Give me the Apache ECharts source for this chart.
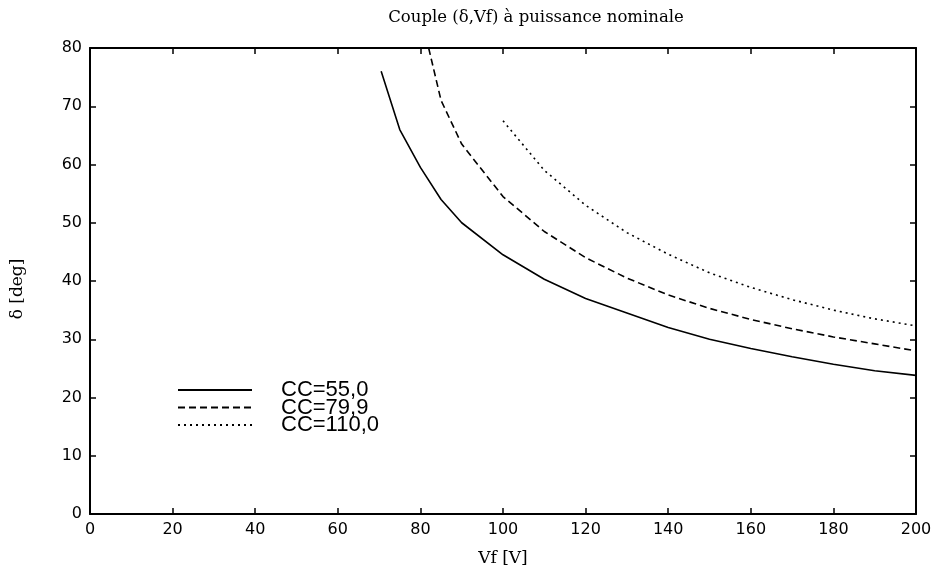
<!DOCTYPE html>
<html>
<head>
<meta charset="utf-8" />
<title>Couple (δ,Vf)</title>
<script src="https://cdn.jsdelivr.net/npm/echarts@6/dist/echarts.min.js"></script>
<style>
  html, body { margin: 0; padding: 0; background: #fff; }
  #chart { width: 935px; height: 574px; }
</style>
</head>
<body>
<div id="chart"></div>
<script>
// courbes : Vf [V] -> delta [deg]
var vf55 = [70.5, 75, 80, 85, 90, 100, 110, 120, 130, 140, 150, 160, 170, 180, 190, 200];
var d55 = [76, 66, 59.5, 54, 50, 44.5, 40.3, 37, 34.5, 32, 30, 28.4, 27, 25.7, 24.6, 23.8];

var vf79 = [82, 85, 90, 100, 110, 120, 130, 140, 150, 160, 170, 180, 190, 200];
var d79 = [80, 71, 63.5, 54.5, 48.5, 44, 40.5, 37.6, 35.3, 33.4, 31.8, 30.4, 29.2, 28];

var vf110 = [100, 110, 120, 130, 140, 150, 160, 170, 180, 190, 200];
var d110 = [67.5, 59, 53, 48.3, 44.6, 41.4, 38.9, 36.8, 35, 33.5, 32.3];

var names = ['CC=55,0', 'CC=79,9', 'CC=110,0'];

function pairs(xs, ys) {
  var out = [];
  for (var i = 0; i < xs.length; i++) out.push([xs[i], ys[i]]);
  return out;
}

var tickFont = { color: '#000', fontFamily: 'DejaVu Sans', fontSize: 16 };
var serif = { fontFamily: 'DejaVu Serif', fontSize: 17, color: '#000' };

function axisBase(show) {
  return {
    axisLine: { show: true, onZero: false, lineStyle: { color: '#000', width: 2 } },
    axisTick: { show: true, inside: true, length: 6, lineStyle: { color: '#000', width: 1.5 } },
    splitLine: { show: false },
    axisLabel: show ? tickFont : { show: false }
  };
}

var chart = echarts.init(document.getElementById('chart'));
chart.setOption({
  backgroundColor: '#fff',
  animation: false,
  title: {
    text: 'Couple (δ,Vf) à puissance nominale',
    left: 531, textAlign: 'center', top: 4,
    textStyle: { fontFamily: 'DejaVu Serif', fontWeight: 'normal', fontSize: 16.5, color: '#000' }
  },
  grid: { left: 90, right: 19, top: 48, bottom: 60 },
  legend: {
    orient: 'vertical', left: 172, top: 374,
    itemWidth: 74, itemHeight: 10, itemGap: -4.5,
    itemStyle: { opacity: 0 },
    textStyle: { fontFamily: 'Liberation Sans', fontSize: 22, lineHeight: 16, color: '#000', padding: [0, 0, 0, 24] },
    data: names
  },
  xAxis: [
    Object.assign(axisBase(true), {
      type: 'value', min: 0, max: 200, interval: 20,
      name: 'Vf [V]', nameLocation: 'middle', nameGap: 36, nameTextStyle: serif
    }),
    Object.assign(axisBase(false), { type: 'value', position: 'top', min: 0, max: 200, interval: 20 })
  ],
  yAxis: [
    Object.assign(axisBase(true), {
      type: 'value', min: 0, max: 80, interval: 10,
      name: 'δ [deg]', nameLocation: 'middle', nameGap: 64, nameRotate: 90,
      nameTextStyle: Object.assign({ padding: [0, 16, 0, 0] }, serif)
    }),
    Object.assign(axisBase(false), { type: 'value', position: 'right', min: 0, max: 80, interval: 10 })
  ],
  series: [
    { name: names[0], type: 'line', symbol: 'none', data: pairs(vf55, d55),
      lineStyle: { color: '#000', width: 1.6, type: 'solid' }, itemStyle: { color: '#000' } },
    { name: names[1], type: 'line', symbol: 'none', data: pairs(vf79, d79),
      lineStyle: { color: '#000', width: 1.6, type: [7, 4] }, itemStyle: { color: '#000' } },
    { name: names[2], type: 'line', symbol: 'none', data: pairs(vf110, d110),
      lineStyle: { color: '#000', width: 1.6, type: [2, 4] }, itemStyle: { color: '#000' } }
  ]
});
</script>
</body>
</html>
